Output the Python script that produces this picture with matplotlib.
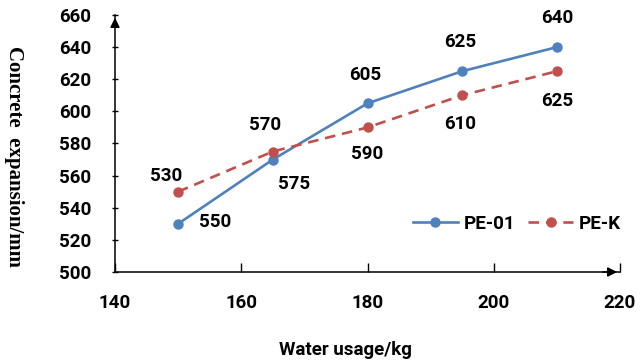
import matplotlib
matplotlib.use("Agg")
from matplotlib import pyplot as plt

water = [150, 165, 180, 195, 210]
pe01 = [530, 570, 605, 625, 640]
pek = [550, 575, 590, 610, 625]
# data labels as printed on the original chart
pe01_labels = ['550', '575', '605', '625', '640']
pek_labels = ['530', '570', '590', '610', '625']

# label offsets in pixels (dx, dy)
pe01_off = [(37, 2), (21, -24), (-2, 28), (-2, 29), (0, 29)]
pek_off = [(-12, 16), (-8, 27), (0, -27), (-2, -29), (0, -30)]

sans = 'Roboto'
fs = 13.5
blue = '#4F81BD'
red = '#C0504D'

fig = plt.figure(figsize=(6.4, 3.63), dpi=100)
ax = fig.add_axes([115/640, 1-272/363, 505/640, 257/363])

ax.plot(water, pe01, color=blue, lw=1.9, marker='o', ms=6.5, label='PE-01')
ax.plot(water, pek, color=red, lw=1.9, marker='o', ms=6.5, dashes=(4, 2.6), label='PE-K')

for x, y, t, (dx, dy) in zip(water, pe01, pe01_labels, pe01_off):
    ax.annotate(t, xy=(x, y), xytext=(dx, dy), textcoords='offset pixels',
                ha='center', va='center', fontsize=fs, fontweight='bold', family=sans)
for x, y, t, (dx, dy) in zip(water, pek, pek_labels, pek_off):
    ax.annotate(t, xy=(x, y), xytext=(dx, dy), textcoords='offset pixels',
                ha='center', va='center', fontsize=fs, fontweight='bold', family=sans)

ax.set_xlim(140, 220)
ax.set_ylim(500, 660)
ax.set_xticks([140, 160, 180, 200, 220])
ax.set_yticks(range(500, 661, 20))
for s in ['top', 'right']:
    ax.spines[s].set_visible(False)
for s in ['left', 'bottom']:
    ax.spines[s].set_linewidth(1.1)
ax.tick_params(axis='x', direction='in', length=6.5, width=1, pad=16)
ax.tick_params(axis='y', direction='inout', length=4.5, width=1, pad=15)
for lab in ax.get_xticklabels() + ax.get_yticklabels():
    lab.set_fontsize(fs)
    lab.set_fontweight('bold')
    lab.set_family(sans)

# axis arrows
ax.annotate('', xy=(1, 0), xytext=(0.96, 0), xycoords='axes fraction',
            arrowprops=dict(arrowstyle='-|>', color='black', lw=1.1, mutation_scale=14))
ax.annotate('', xy=(0, 1), xytext=(0, 0.95), xycoords='axes fraction',
            arrowprops=dict(arrowstyle='-|>', color='black', lw=1.1, mutation_scale=14))

leg = ax.legend(loc='center', bbox_to_anchor=(0.796, 0.187), ncol=2, frameon=False,
                handlelength=2.4, columnspacing=0.7, handletextpad=0.3,
                prop=dict(family=sans, weight='bold', size=fs))

fig.text(345/640, 1-350/363, 'Water usage/kg', ha='center', va='center',
         fontsize=fs, fontweight='bold', family=sans)
fig.text(14/640, 1-157/363, 'Concrete  expansion/mm', ha='center', va='center',
         rotation=-90, fontsize=15, fontweight='bold', family='Liberation Serif')

fig.savefig('out.png', dpi=100)
